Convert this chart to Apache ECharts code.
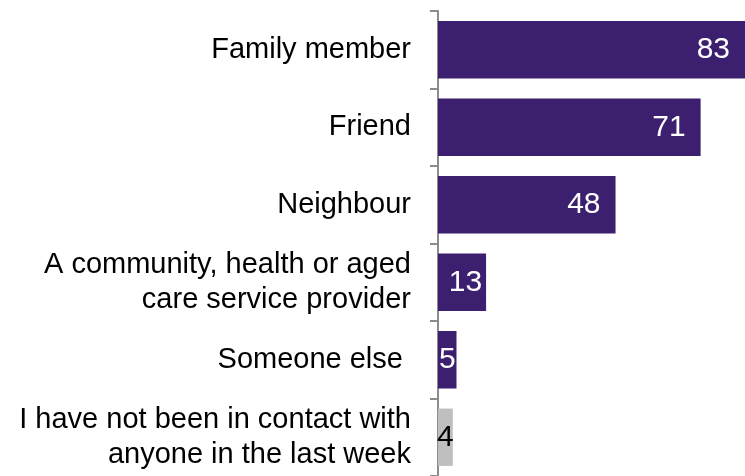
<!DOCTYPE html>
<html>
<head>
<meta charset="utf-8">
<style>
  html, body { margin: 0; padding: 0; background: #ffffff; }
  #chart { width: 745px; height: 476px; }
</style>
<script src="https://cdn.jsdelivr.net/npm/echarts@6/dist/echarts.min.js"></script>
</head>
<body>
<div id="chart"></div>
<script>
// Who respondents were in contact with in the last week (%)
const categories = [
  'Family member',
  'Friend',
  'Neighbour',
  'A community, health or aged\ncare service provider',
  'Someone else ',
  'I have not been in contact with\nanyone in the last week'
];
const values = [83, 71, 48, 13, 5, 4];

const PURPLE = '#3c1f6e';
const GREY = '#bfbfbf';
const FONT = '"Liberation Sans", Arial, sans-serif';

// Last category is shown in grey with a dark label; short bars centre their label.
const seriesData = values.map((v, i) => {
  const isLast = i === values.length - 1;
  const item = {
    value: v,
    itemStyle: { color: isLast ? GREY : PURPLE },
    label: { color: isLast ? '#000000' : '#ffffff' }
  };
  if (v < 10) {
    item.label.position = 'inside';
  } else if (v < 20) {
    item.label.position = 'insideRight';
    item.label.distance = 4;
  }
  return item;
});

const chart = echarts.init(document.getElementById('chart'), null, { renderer: 'canvas' });
chart.setOption({
  animation: false,
  backgroundColor: '#ffffff',
  grid: { left: 438, top: 11, width: 307.5, height: 468, containLabel: false },
  xAxis: {
    type: 'value',
    min: 0,
    max: 83,
    show: false
  },
  yAxis: {
    type: 'category',
    data: categories,
    inverse: true,
    axisLine: { show: true, lineStyle: { color: '#8c8c8c', width: 2 } },
    axisTick: { show: true, length: 8, lineStyle: { color: '#8c8c8c', width: 2 } },
    axisLabel: {
      margin: 27,
      color: '#000000',
      fontFamily: FONT,
      fontSize: 29,
      lineHeight: 35,
      align: 'right'
    },
    splitLine: { show: false }
  },
  series: [{
    type: 'bar',
    data: seriesData,
    barCategoryGap: '26%',
    label: {
      show: true,
      position: 'insideRight',
      distance: 15,
      fontFamily: FONT,
      fontSize: 30,
      color: '#ffffff'
    }
  }]
});
</script>
</body>
</html>
